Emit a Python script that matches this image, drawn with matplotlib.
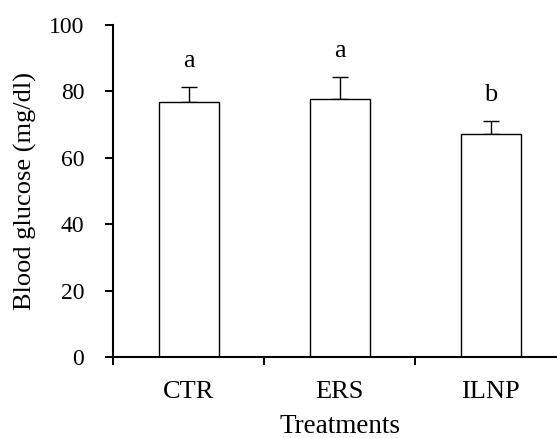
import numpy as np
import matplotlib
matplotlib.use("Agg")
import matplotlib.pyplot as plt

# 数据
treatments = ["CTR", "ERS", "ILNP"]
glucose = [76.8, 77.7, 67.3]
glucose_err = [4.6, 6.6, 3.9]
letters = ["a", "a", "b"]

plt.rcParams["font.family"] = ["Liberation Serif", "DejaVu Serif"]

fig = plt.figure(figsize=(5.57, 4.38), dpi=100)
ax = fig.add_axes([0.2034, 0.1842, 0.7966, 0.7587])

x = np.arange(len(treatments)) + 0.5
ax.bar(x, glucose, width=0.4, color="white", edgecolor="black", linewidth=1.0, zorder=2)
ax.errorbar(x, glucose, yerr=[np.zeros(len(glucose)), glucose_err], fmt="none",
            ecolor="black", elinewidth=1.0, capsize=5.5, capthick=1.0, zorder=1)

# 显著性字母
for xi, v, e, s in zip(x, glucose, glucose_err, letters):
    ax.text(xi, v + e + 4.5, s, ha="center", va="bottom", fontsize=19)

ax.set_xlim(0, 2.938)
ax.set_ylim(0, 100)
ax.set_yticks([0, 20, 40, 60, 80, 100])
ax.tick_params(axis="y", direction="out", length=6, width=1.4, pad=15, labelsize=17)

ax.set_xticks([0, 1, 2])
ax.set_xticklabels([])
ax.set_xticks(x, minor=True)
ax.set_xticklabels(treatments, minor=True)
ax.tick_params(axis="x", which="major", direction="out", length=6, width=1.4)
ax.tick_params(axis="x", which="minor", length=0, pad=17, labelsize=19)

for side in ["top", "right"]:
    ax.spines[side].set_visible(False)
for side in ["left", "bottom"]:
    ax.spines[side].set_linewidth(1.5)

ax.set_ylabel("Blood glucose (mg/dl)", fontsize=19)
ax.yaxis.set_label_coords(-0.172, 0.5)
ax.set_xlabel("Treatments", fontsize=19.5, va="top")
ax.xaxis.set_label_coords(1.5 / 2.938, -0.171)

fig.savefig("out.png", dpi=100)
